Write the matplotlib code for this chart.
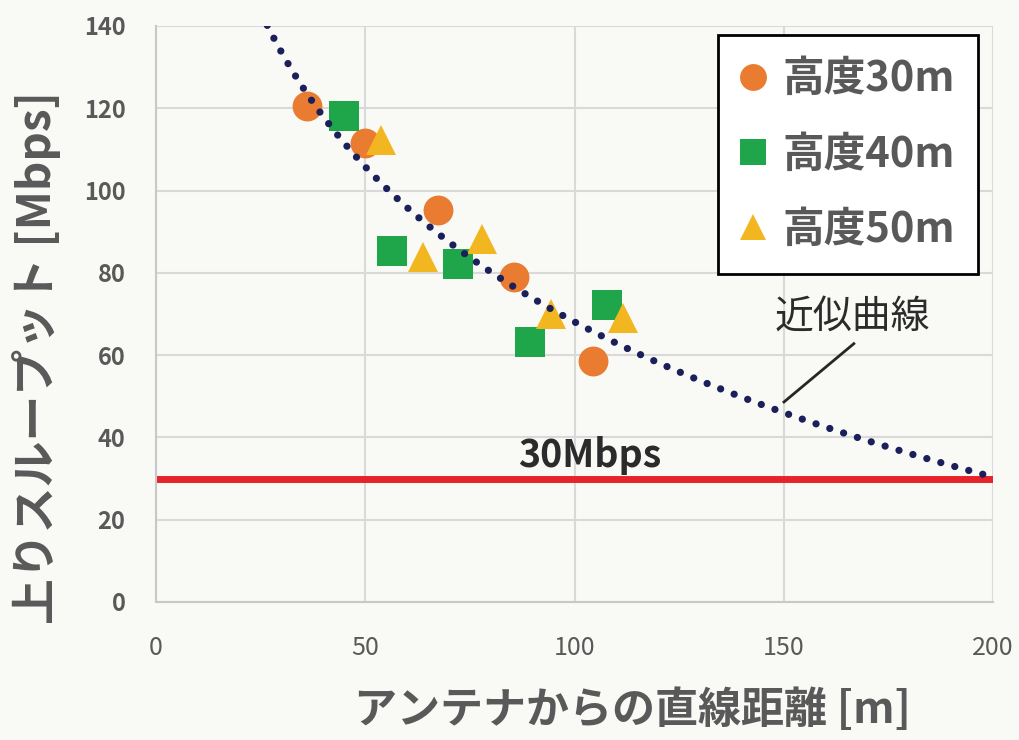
import numpy as np
import matplotlib
matplotlib.use("Agg")
import matplotlib.pyplot as plt

plt.rcParams['font.family'] = ['Noto Sans CJK JP', 'DejaVu Sans']

# measured throughput by antenna height
dist_30 = [36.1, 50.0, 67.3, 85.6, 104.5]
tput_30 = [120.6, 111.6, 95.3, 79.1, 58.6]
dist_40 = [45.0, 56.5, 72.2, 89.4, 107.7]
tput_40 = [118.0, 85.4, 82.2, 63.2, 72.2]
dist_50 = [53.7, 63.9, 78.0, 94.3, 111.7]
tput_50 = [112.2, 83.8, 88.3, 69.9, 69.0]

# logarithmic trend line: y = fit_a - fit_b * ln(x)
fit_a = 318.6
fit_b = 54.4
threshold = 30

x_ticks = [0, 50, 100, 150, 200]
y_ticks = [0, 20, 40, 60, 80, 100, 120, 140]

bg = '#f9f9f6'
gray_txt = '#595959'

fig = plt.figure(figsize=(10.19, 7.40), dpi=100, facecolor=bg)
ax = fig.add_axes([0.1531, 0.1865, 0.8214, 0.7784], facecolor=bg)

ax.grid(True, color='#d9d9d9', linewidth=1.5, zorder=0)
for s in ['top', 'right']:
    ax.spines[s].set_visible(False)
for s in ['left', 'bottom']:
    ax.spines[s].set_color('#c8c8c8')
    ax.spines[s].set_linewidth(1.5)

# 30Mbps threshold
ax.plot([0, 200], [threshold, threshold], color='#e8222a', linewidth=5,
        solid_capstyle='butt', zorder=2)
ax.text(103.7, 35.5, '30Mbps', ha='center', va='center', fontsize=27,
        fontweight='bold', color='#2b2b2b', zorder=5)

# trend curve
xs = np.linspace(20, 200, 400)
ys = fit_a - fit_b * np.log(xs)
ax.plot(xs, ys, color='#1b1f5a', linewidth=5.2, linestyle=(0, (0.01, 2.0)),
        dash_capstyle='round', zorder=4)

ms = 21.5
ax.plot(dist_30, tput_30, 'o', color='#e97c30', markersize=ms, markeredgewidth=0,
        label='高度30m', zorder=3)
ax.plot(dist_40, tput_40, 's', color='#1fa64a', markersize=ms, markeredgewidth=0,
        label='高度40m', zorder=3)
ax.plot(dist_50, tput_50, '^', color='#f2b620', markersize=ms, markeredgewidth=0,
        label='高度50m', zorder=3)

# callout for the trend curve
ax.text(166.5, 69.3, '近似曲線', ha='center', va='center', fontsize=28,
        color='#2b2b2b', zorder=5)
ax.plot([167.0, 149.8], [63.0, 48.4], color='#262626', linewidth=2,
        solid_capstyle='butt', zorder=5)

ax.set_xlim(0, 200)
ax.set_ylim(0, 140)
ax.set_xticks(x_ticks)
ax.set_yticks(y_ticks)
ax.tick_params(length=0)
ax.tick_params(axis='x', labelsize=18, labelcolor=gray_txt, pad=24)
ax.tick_params(axis='y', labelsize=17, labelcolor=gray_txt, pad=22)
for lbl in ax.get_yticklabels():
    lbl.set_fontweight('bold')

ax.set_xlabel('アンテナからの直線距離 [m]', fontsize=31, fontweight='bold',
              color=gray_txt)
ax.set_ylabel('上りスループット [Mbps]', fontsize=33, fontweight='bold',
              color=gray_txt)
ax.xaxis.set_label_coords(0.569, -0.15)
ax.yaxis.set_label_coords(-0.113, 0.425)

leg = ax.legend(loc='upper right', bbox_to_anchor=(0.982, 0.984), borderaxespad=0,
                fancybox=False, framealpha=1, edgecolor='black', facecolor='white',
                fontsize=30, markerscale=0.9, handlelength=0.6, handletextpad=0.4,
                labelspacing=0.8, borderpad=0.55)
leg.get_frame().set_linewidth(2)
for t in leg.get_texts():
    t.set_color(gray_txt)
    t.set_fontweight('bold')

fig.savefig('out.png', dpi=100, facecolor=bg)
